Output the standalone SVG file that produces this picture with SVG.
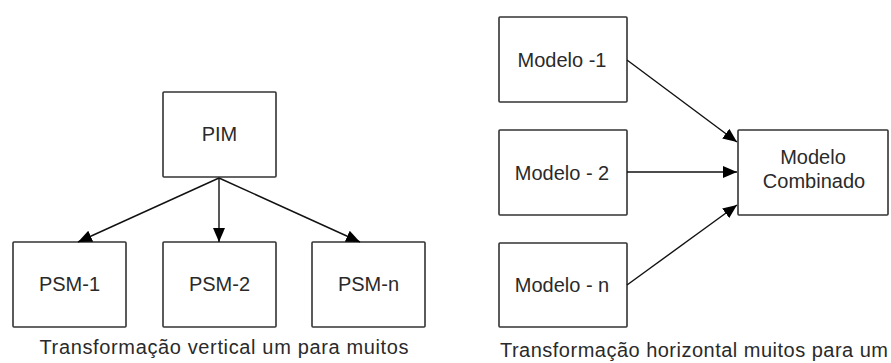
<svg xmlns="http://www.w3.org/2000/svg" width="891" height="363" viewBox="0 0 891 363">
  <defs>
    <marker id="arrow" markerUnits="userSpaceOnUse" markerWidth="14" markerHeight="12" viewBox="0 0 14 12" refX="14" refY="6" orient="auto">
      <path d="M0,0 L14,6 L0,12 z" fill="#000"/>
    </marker>
    <style>
      .box { fill: #fff; stroke: #333; stroke-width: 1.6; }
      .label { font-family: "Liberation Sans", Arial, sans-serif; font-size: 20px; fill: #2a2a2a; text-anchor: middle; }
      .caption { font-family: "Liberation Sans", Arial, sans-serif; font-size: 20px; fill: #2a2a2a; text-anchor: middle; }
      .edge { fill: none; stroke: #111; stroke-width: 1.4; marker-end: url(#arrow); }
    </style>
  </defs>
  <rect width="891" height="363" fill="#fff"/>

  <!-- vertical one-to-many transformation -->
  <g id="pim">
    <rect class="box" x="163" y="92" width="113" height="85" rx="1"/>
    <text class="label" x="219.5" y="141">PIM</text>
  </g>
  <g id="psm-1">
    <rect class="box" x="13" y="242" width="113" height="85" rx="1"/>
    <text class="label" x="69.5" y="291">PSM-1</text>
  </g>
  <g id="psm-2">
    <rect class="box" x="163" y="242" width="113" height="85" rx="1"/>
    <text class="label" x="219.5" y="291">PSM-2</text>
  </g>
  <g id="psm-n">
    <rect class="box" x="312" y="242" width="113" height="85" rx="1"/>
    <text class="label" x="368.5" y="291">PSM-n</text>
  </g>

  <!-- horizontal many-to-one transformation -->
  <g id="modelo-1">
    <rect class="box" x="499" y="17" width="128" height="85" rx="1"/>
    <text class="label" x="562" y="67">Modelo -1</text>
  </g>
  <g id="modelo-2">
    <rect class="box" x="499" y="130" width="128" height="85" rx="1"/>
    <text class="label" x="562" y="180">Modelo - 2</text>
  </g>
  <g id="modelo-n">
    <rect class="box" x="499" y="243" width="128" height="84" rx="1"/>
    <text class="label" x="562" y="292">Modelo - n</text>
  </g>
  <g id="modelo-combinado">
    <rect class="box" x="738" y="130" width="150" height="85" rx="1"/>
    <text class="label" x="813" y="164">Modelo</text>
    <text class="label" x="814" y="188">Combinado</text>
  </g>

  <g id="connectors">
    <line class="edge" x1="219" y1="178" x2="78" y2="242"/>
    <line class="edge" x1="219" y1="178" x2="219" y2="242"/>
    <line class="edge" x1="219" y1="178" x2="360" y2="242"/>
    <line class="edge" x1="627" y1="60" x2="737" y2="142"/>
    <line class="edge" x1="627" y1="172" x2="737" y2="172"/>
    <line class="edge" x1="627" y1="285" x2="737" y2="205"/>
  </g>

  <g id="captions">
    <text class="caption" x="224" y="354" textLength="369" lengthAdjust="spacing">Transformação vertical um para muitos</text>
    <text class="caption" x="694" y="357" textLength="388" lengthAdjust="spacing">Transformação horizontal muitos para um</text>
  </g>
</svg>
